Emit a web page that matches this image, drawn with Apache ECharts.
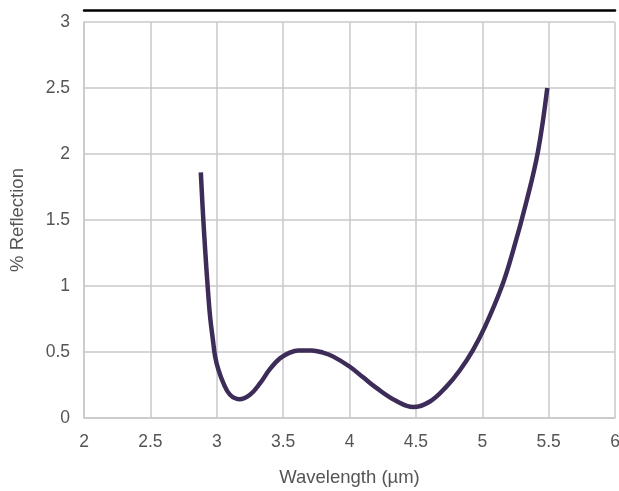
<!DOCTYPE html>
<html>
<head>
<meta charset="utf-8">
<script src="https://cdn.jsdelivr.net/npm/echarts@6/dist/echarts.min.js"></script>
<style>html,body{margin:0;padding:0;background:#fff}#c{width:619px;height:491px}</style>
</head>
<body>
<div id="c"></div>
<script>
const wavelength = [2.88, 2.895, 2.913, 2.93, 2.95, 2.97, 2.988, 3.013, 3.05, 3.10, 3.17, 3.25, 3.327, 3.40, 3.477, 3.55, 3.615, 3.716, 3.80, 3.878, 4.0, 4.10, 4.205, 4.35, 4.48, 4.606, 4.73, 4.83, 4.93, 5.02, 5.145, 5.233, 5.333, 5.42, 5.49];
const reflection = [1.86, 1.57, 1.27, 1.018, 0.766, 0.6, 0.465, 0.364, 0.264, 0.176, 0.142, 0.176, 0.264, 0.37, 0.452, 0.495, 0.512, 0.512, 0.495, 0.465, 0.39, 0.31, 0.226, 0.13, 0.083, 0.125, 0.238, 0.36, 0.515, 0.69, 0.99, 1.27, 1.64, 2.02, 2.5];
const xTicks = {min: 2, max: 6, interval: 0.5};
const yTicks = {min: 0, max: 3, interval: 0.5};

const chart = echarts.init(document.getElementById('c'));
const gridColor = '#c9c9cb';
const textColor = '#555555';
const font = 'Liberation Sans, Arial, Helvetica, sans-serif';
chart.setOption({
  animation: false,
  grid: {left: 84, right: 4, top: 22, bottom: 73, containLabel: false, outerBoundsMode: 'none'},
  xAxis: [{
    type: 'value', min: xTicks.min, max: xTicks.max, interval: xTicks.interval,
    name: 'Wavelength (µm)', nameLocation: 'middle', nameGap: 50,
    nameTextStyle: {color: textColor, fontSize: 18.5, fontFamily: font},
    axisLine: {show: true, lineStyle: {color: gridColor, width: 1.5}},
    axisTick: {show: false},
    axisLabel: {color: textColor, fontSize: 17.5, fontFamily: font, margin: 15},
    splitLine: {show: true, lineStyle: {color: gridColor, width: 1.5}}
  }, {
    type: 'value', position: 'top', offset: 12, min: xTicks.min, max: xTicks.max,
    axisLine: {show: true, lineStyle: {color: '#000', width: 2.5}},
    axisTick: {show: false}, axisLabel: {show: false}, splitLine: {show: false}
  }],
  yAxis: {
    type: 'value', min: yTicks.min, max: yTicks.max, interval: yTicks.interval,
    name: '% Reflection', nameLocation: 'middle', nameGap: 57,
    nameTextStyle: {color: textColor, fontSize: 18.5, fontFamily: font},
    axisLine: {show: true, lineStyle: {color: gridColor, width: 1.5}},
    axisTick: {show: false},
    axisLabel: {color: textColor, fontSize: 17.5, fontFamily: font, margin: 14},
    splitLine: {show: true, lineStyle: {color: gridColor, width: 1.5}}
  },
  series: [{
    type: 'line', xAxisIndex: 0,
    data: wavelength.map((x, i) => [x, reflection[i]]),
    smooth: 0.4, showSymbol: false,
    lineStyle: {color: '#3e2c58', width: 4.5}
  }]
});
</script>
</body>
</html>
